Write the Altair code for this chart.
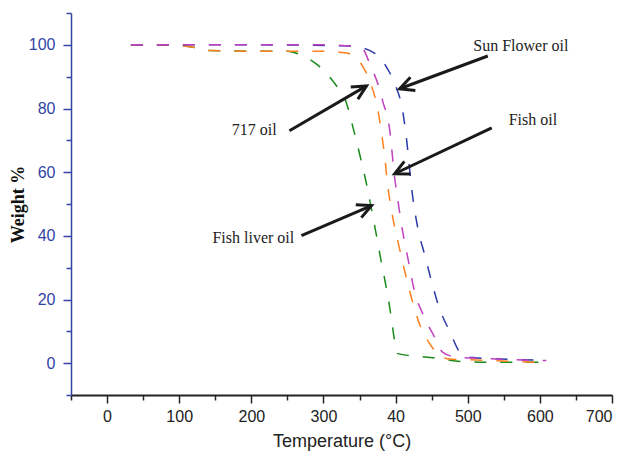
import math
import altair as alt
import pandas as pd

# ---- data ----
fish_t = [33, 100, 200, 300, 340, 353, 366, 375, 382, 392, 398.6, 402, 408, 417, 426, 440, 454, 465, 484, 517, 609]
fish_w = [100, 100, 100, 100, 99.5, 99, 93, 88, 82.4, 73, 58.4, 53, 43.8, 33, 22.8, 14.4, 8.2, 3.5, 1.9, 1.5, 0.8]

o717_t = [33, 100, 125, 140, 200, 300, 330, 345, 355, 364, 375, 380, 385, 389, 396, 403, 412.5, 421.8, 433, 447, 461, 475, 512, 595]
o717_w = [100, 99.8, 99, 98.2, 98, 98, 97.5, 96, 93, 88.7, 80, 73, 64.6, 56, 45.8, 38.5, 29, 20.7, 12.4, 6.2, 2.4, 1.3, 1.0, 0.3]

liver_t = [33, 100, 125, 140, 200, 250, 266.7, 290, 308, 320, 331.5, 341, 350, 359, 366, 373, 380, 387, 394, 398.6, 403, 419, 456, 493, 530, 605]
liver_w = [100, 99.8, 99, 98.2, 98, 98, 97, 94, 90, 86.5, 82, 74, 65.8, 57, 49, 40.7, 32, 23.8, 14.4, 7, 3.0, 2.4, 1.6, 0.5, 0.3, 0.3]

sun_t = [33, 200, 330, 355, 370, 380, 390, 399.5, 410, 415, 422.7, 431, 440, 449.5, 459.7, 476, 486, 493, 510, 535, 609]
sun_w = [100, 100, 99.7, 99, 97.5, 95.5, 92, 87.4, 79, 70.7, 54, 42.2, 34.3, 26, 17.9, 9.5, 4.5, 2.3, 1.7, 1.4, 0.9]

series_names = ["Fish liver oil", "717 oil", "Sun Flower oil", "Fish oil"]
series_t = [liver_t, o717_t, sun_t, fish_t]
series_w = [liver_w, o717_w, sun_w, fish_w]
series_colors = ["#1a8a1a", "#ff7f1e", "#2b3aa8", "#c040c0"]

x_ticks = [-50, 0, 50, 100, 150, 200, 250, 300, 350, 400, 450, 500, 550, 600, 650, 700]
y_ticks = [-10, 0, 10, 20, 30, 40, 50, 60, 70, 80, 90, 100, 110]

ann_label = ["Sun Flower oil", "Fish oil", "717 oil", "Fish liver oil"]
ann_text_x = [573.6, 590.3, 204, 202.8]
ann_text_y = [99.5, 76.5, 73.3, 39.3]
ann_tail_x = [527.8, 533.3, 252.8, 269.4]
ann_tail_y = [96.5, 73.9, 73.0, 40.1]
ann_head_x = [405.6, 398.6, 359.7, 366.7]
ann_head_y = [86.2, 59.5, 87.1, 49.5]

# ---- chart ----
W, H = 541, 382
XD, YD = [-50, 700], [-10, 110]
px_x = W / (XD[1] - XD[0])
px_y = H / (YD[1] - YD[0])

rows = []
for name, ts, ws in zip(series_names, series_t, series_w):
    for i, (t, w) in enumerate(zip(ts, ws)):
        rows.append({"series": name, "T": t, "W": w, "i": i})
df = pd.DataFrame(rows)

ann = pd.DataFrame({
    "label": ann_label, "lx": ann_text_x, "ly": ann_text_y,
    "tx": ann_tail_x, "ty": ann_tail_y, "hx": ann_head_x, "hy": ann_head_y,
})
ann["ang"] = [
    math.degrees(math.atan2(-(hy - ty) * px_y, (hx - tx) * px_x)) % 360
    for tx, ty, hx, hy in zip(ann.tx, ann.ty, ann.hx, ann.hy)
]

blue = "#3344a6"
xscale = alt.Scale(domain=XD, nice=False, zero=False)
yscale = alt.Scale(domain=YD, nice=False, zero=False)

x_axis = alt.Axis(values=x_ticks, grid=False, title="Temperature (°C)",
                  labelExpr="datum.value % 100 != 0 ? '' : (datum.value == 400 ? '40' : datum.label)",
                  labelOverlap=False, labelBound=False,
                  labelFont="Liberation Sans", labelFontSize=16, labelColor="#222",
                  labelPadding=5,
                  tickSize={"condition": {"test": "datum.value % 100 == 0", "value": 8}, "value": 5},
                  tickWidth=1.5, tickColor="#222",
                  domainColor="#222", domainWidth=2,
                  titleFont="Liberation Sans", titleFontSize=18, titleFontWeight="normal",
                  titleColor="#222", titlePadding=8)
y_axis = alt.Axis(values=y_ticks, grid=False, title="Weight %",
                  labelExpr="datum.value % 20 != 0 ? '' : datum.label",
                  labelOverlap=False, labelBound=False,
                  labelFont="Liberation Sans", labelFontSize=16, labelColor=blue,
                  labelPadding=8,
                  tickSize={"condition": {"test": "datum.value % 20 == 0", "value": 8}, "value": 5},
                  tickWidth=1.5, tickColor=blue,
                  domainColor=blue, domainWidth=1.5,
                  titleFont="Liberation Serif", titleFontSize=18, titleFontWeight="bold",
                  titleColor="#111", titlePadding=1)


def X(field):
    return alt.X(field, type="quantitative", scale=xscale, axis=x_axis)


def Y(field):
    return alt.Y(field, type="quantitative", scale=yscale, axis=y_axis)


layers = []
for name, col in zip(series_names, series_colors):
    layers.append(
        alt.Chart(df[df.series == name]).mark_line(
            strokeDash=[12, 14], strokeWidth=1.5, interpolate="monotone", color=col
        ).encode(x=X("T"), y=Y("W"), order="i:Q")
    )

shafts = alt.Chart(ann).mark_rule(strokeWidth=3, color="#1a1a1a").encode(
    x=X("tx"), y=Y("ty"), x2="hx:Q", y2="hy:Q",
)
heads = alt.Chart(ann).mark_point(
    shape="M -1 -0.5 L 0 0 L -1 0.5", filled=False, strokeWidth=3, color="#1a1a1a",
    size=800, opacity=1,
).encode(
    x=X("hx"), y=Y("hy"), angle=alt.Angle("ang:Q", scale=None),
)
texts = alt.Chart(ann).mark_text(
    font="Liberation Serif", fontSize=16, color="#222", align="center", baseline="middle"
).encode(
    x=X("lx"), y=Y("ly"), text="label:N",
)

chart = alt.layer(*layers, shafts, heads, texts).properties(
    width=W, height=H,
    autosize=alt.AutoSizeParams(type="none"),
    padding={"left": 63, "top": 5, "right": 10, "bottom": 60},
).configure_view(stroke=None)

chart.save("out.html", embed_options={"renderer": "svg", "actions": False})
